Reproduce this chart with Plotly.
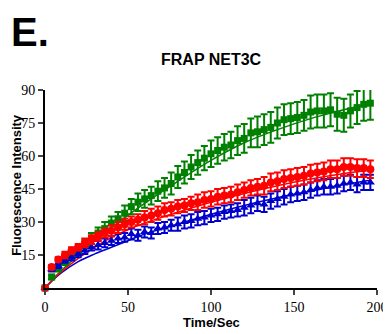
import plotly.graph_objects as go

time_s = [0, 4, 8, 12, 16, 20, 24, 28, 32, 36, 40, 44, 48, 52, 56, 60, 64, 68, 72, 76,
          80, 84, 88, 92, 96, 100, 104, 108, 112, 116, 120, 124, 128, 132, 136, 140, 144, 148, 152, 156,
          160, 164, 168, 172, 176, 180, 184, 188, 192, 196]

green_vals = [0, 5, 9, 12, 15, 17, 20, 22.5, 25, 27, 29.5, 31.5, 34, 37, 39, 40.5, 42, 44, 45.5, 47.5,
              50.5, 52.5, 55, 57, 59, 61, 62.5, 64, 65, 67, 68, 70.5, 71, 72, 73, 75, 76.5, 77, 77.5, 78.5,
              80, 80.5, 80.5, 81, 79, 78.5, 80.5, 82, 83.5, 84]
green_err = [0, 1, 1.5, 1.5, 2, 2, 2, 2.5, 2.5, 3, 3, 3, 3.5, 3.5, 4, 4, 4, 4.5, 4.5, 5,
             5, 5, 5.5, 5.5, 5.5, 6, 6, 6, 6, 6.5, 6.5, 6.5, 7, 7, 7, 7, 7, 7, 7, 7,
             7.5, 7.5, 7.5, 7.5, 7.5, 7.5, 7.5, 7.5, 7.5, 7.5]

red_vals = [0, 9.5, 13, 15, 17, 18.5, 20.5, 22, 23.5, 25, 26, 27.5, 29, 30, 31, 32, 33, 34, 35.5, 36,
            37, 37.5, 38.5, 39, 40, 40.5, 41.5, 42, 42.5, 43.5, 44.5, 45.5, 46, 46.5, 48, 48.5, 49.5, 50, 50.5, 51,
            52, 52.5, 53, 54, 54, 55, 55, 54.5, 54.5, 54]
red_err = [0, 1, 1, 1.5, 1.5, 1.5, 2, 2, 2, 2, 2.5, 2.5, 2.5, 2.5, 2.5, 3, 3, 3, 3, 3,
           3, 3, 3, 3.5, 3.5, 3.5, 3.5, 3.5, 3.5, 3.5, 3.5, 3.5, 3.5, 4, 4, 4, 4, 4, 4, 4,
           4, 4, 4, 4, 4, 4, 4, 4, 4, 4]

blue_vals = [0, 8.5, 10, 12.5, 14, 15.5, 17, 18.5, 19.5, 20.5, 21.5, 22.5, 23, 24.5, 24, 25.5, 25, 27, 27.5, 28.5,
             29, 30, 30.5, 31.5, 32, 33, 33.5, 34.5, 35, 35.5, 36.5, 37.5, 38.5, 38, 39.5, 40.5, 41.5, 42.5, 43, 43.5,
             44.5, 45.5, 46, 46, 46.5, 47.5, 48, 47, 48, 48]
blue_err = [0, 1, 1, 1, 1.5, 1.5, 1.5, 1.5, 2, 2, 2, 2, 2, 2.5, 2.5, 2.5, 2.5, 2.5, 2.5, 2.5,
            3, 3, 3, 3, 3, 3, 3, 3, 3, 3, 3.5, 3.5, 3.5, 3.5, 3.5, 3.5, 3.5, 3.5, 3.5, 3.5,
            3.5, 3.5, 3.5, 3.5, 3.5, 3.5, 3.5, 3.5, 3.5, 3.5]

fit_t = [0, 5, 10, 20, 30, 40, 50, 60, 80, 100, 120, 140, 160, 180, 196]
fit_green = [0, 4.2, 8, 15, 21.5, 27.5, 33, 38.5, 48.5, 58, 66, 72, 77, 81, 84]
fit_red = [0, 4, 7.5, 13.5, 18.5, 23, 26.5, 29.5, 34.5, 39, 43, 46.5, 49.5, 52, 53.5]
fit_blue = [0, 3.8, 7, 12, 15.5, 18.5, 21.5, 24.5, 29, 33.5, 37.5, 41, 44, 47, 49]

x_ticks = [0, 50, 100, 150, 200]
y_ticks = [15, 30, 45, 60, 75, 90]

GREEN = "#008000"
RED = "#FF0000"
BLUE = "#0000CC"
SERIF = "'Liberation Serif', 'DejaVu Serif', serif"

fig = go.Figure()

for ft, col in [(fit_green, GREEN), (fit_blue, BLUE), (fit_red, RED)]:
    fig.add_trace(go.Scatter(x=fit_t, y=ft, mode="lines", line=dict(color=col, width=1.5, shape="spline"),
                             showlegend=False, cliponaxis=False, hoverinfo="skip"))

def add_series(vals, errs, col, symbol, size):
    fig.add_trace(go.Scatter(
        x=time_s, y=vals, mode="markers",
        marker=dict(color=col, symbol=symbol, size=size, line=dict(width=0)),
        error_y=dict(type="data", array=errs, visible=True, color=col, thickness=2, width=3.5),
        showlegend=False, cliponaxis=False))

add_series(green_vals, green_err, GREEN, "square", 7)
add_series(blue_vals, blue_err, BLUE, "triangle-up", 8)
add_series(red_vals, red_err, RED, "circle", 8)

fig.update_layout(
    width=391, height=334,
    margin=dict(l=37, r=22, t=82, b=54, autoexpand=False),
    paper_bgcolor="white", plot_bgcolor="white",
    showlegend=False,
    xaxis=dict(range=[0, 200], tickvals=x_ticks, ticks="outside", ticklen=5, tickwidth=2,
               showline=True, linewidth=2, linecolor="black", showgrid=False, zeroline=False,
               automargin=False,
               tickfont=dict(family=SERIF, size=14, color="black")),
    yaxis=dict(range=[0, 90], tickvals=y_ticks, ticks="outside", ticklen=5, tickwidth=2,
               showline=True, linewidth=2, linecolor="black", showgrid=False, zeroline=False,
               automargin=False,
               tickfont=dict(family=SERIF, size=14, color="black")),
    annotations=[
        dict(text="<b>E.</b>", xref="paper", yref="paper", x=-0.109, y=1.414,
             xanchor="left", yanchor="top", showarrow=False,
             font=dict(family="Liberation Sans", size=40, color="black")),
        dict(text="<b>FRAP NET3C</b>", xref="paper", yref="paper", x=0.503, y=1.152,
             xanchor="center", yanchor="middle", showarrow=False,
             font=dict(family="Liberation Sans", size=16, color="black")),
        dict(text="<b>Fluorescence Intensity</b>", xref="paper", yref="paper", x=-0.088, y=0.52,
             xanchor="center", yanchor="middle", textangle=-90, showarrow=False,
             font=dict(family="Liberation Sans", size=13, color="black")),
        dict(text="<b>Time/Sec</b>", xref="paper", yref="paper", x=0.5, y=-0.172,
             xanchor="center", yanchor="middle", showarrow=False,
             font=dict(family="Liberation Sans", size=13, color="black")),
    ],
)

fig.write_html("out.html")
